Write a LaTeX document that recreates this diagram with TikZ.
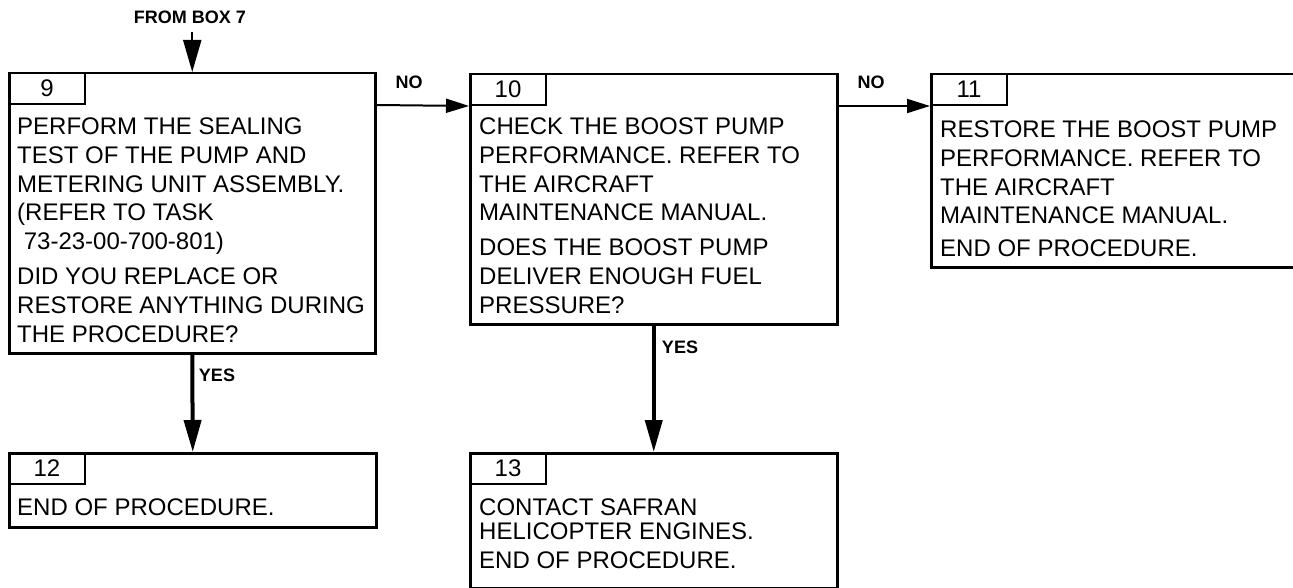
\documentclass[tikz,border=0pt]{standalone}
\usepackage{fontspec}
\setmainfont{Liberation Sans}
\usetikzlibrary{arrows.meta}
\tikzset{
  box/.style={draw=black, line width=2.5pt, inner sep=0pt, anchor=north west},
  tabbox/.style={draw=black, line width=2pt, inner sep=0pt, minimum width=76pt, minimum height=31pt, anchor=north west, font=\fontsize{24}{28}\selectfont},
  body/.style={inner sep=0pt, anchor=north west, align=left, font=\fontsize{24}{28.8}\selectfont},
  lbl/.style={inner sep=0pt, font=\fontsize{18}{20}\selectfont\bfseries},
  thinarrow/.style={line width=2pt, -{Triangle[length=23pt,width=14pt]}},
  thickarrow/.style={line width=4pt, -{Triangle[length=32pt,width=17pt]}},
  toparrow/.style={line width=2pt, -{Triangle[length=32pt,width=18pt]}}
}
\begin{document}
\begin{tikzpicture}[x=1pt,y=-1pt]
\useasboundingbox (0,0) rectangle (1293,588);
\fill[white] (0,0) rectangle (1293,588);
% boxes
\node[box, minimum width=366pt, minimum height=280pt] (b9) at (8,72) {};
\node[box, minimum width=367pt, minimum height=250pt] (b10) at (469,73) {};
\begin{scope}
\clip (0,0) rectangle (1293,588);
\node[box, minimum width=380pt, minimum height=193pt] (b11) at (930,73) {};
\end{scope}
\node[box, minimum width=367pt, minimum height=74pt] (b12) at (8,452) {};
\node[box, minimum width=367pt, minimum height=135pt] (b13) at (469,452) {};
% tabs
\node[tabbox] (t9) at (b9.north west) {9};
\node[tabbox] (t10) at (b10.north west) {10};
\node[tabbox] (t11) at (b11.north west) {11};
\node[tabbox] (t12) at (b12.north west) {12};
\node[tabbox] (t13) at (b13.north west) {13};
% texts
\node[body] (x9) at (17,117.6) {PERFORM THE SEALING\\TEST OF THE PUMP AND\\METERING UNIT ASSEMBLY.\\(REFER TO TASK\\\ 73-23-00-700-801)\\[6pt]DID YOU REPLACE OR\\RESTORE ANYTHING DURING\\THE PROCEDURE?};
\node[body] (x10) at (479,117.6) {CHECK THE BOOST PUMP\\PERFORMANCE. REFER TO\\THE AIRCRAFT\\MAINTENANCE MANUAL.\\[6pt]DOES THE BOOST PUMP\\DELIVER ENOUGH FUEL\\PRESSURE?};
\node[body] (x11) at (940,120.6) {RESTORE THE BOOST PUMP\\PERFORMANCE. REFER TO\\THE AIRCRAFT\\MAINTENANCE MANUAL.\\[4pt]END OF PROCEDURE.};
\node[body] (x12) at (17,498.6) {END OF PROCEDURE.};
\node[body] (x13) at (479,498.6) {CONTACT SAFRAN\\[-5pt]HELICOPTER ENGINES.\\END OF PROCEDURE.};
% connectors
\node[lbl] (from7) at (190,17) {FROM BOX 7};
\coordinate (c7) at (b9.north |- 0,32);
\draw[toparrow] (c7) -- (b9.north);
\draw[thinarrow] (t9.south -| b9.east) -- (t10.south -| b10.west);
\draw[thinarrow] (t10.south -| b10.east) -- (t11.south -| b11.west);
\draw[thickarrow] (b9.south) -- (b12.north);
\draw[thickarrow] (b10.south) -- (b13.north);
\node[lbl] (no1) at (409,82) {NO};
\node[lbl] (no2) at (871,82) {NO};
\node[lbl] (yes1) at (217,375) {YES};
\node[lbl] (yes2) at (680,347) {YES};
\end{tikzpicture}
\end{document}
